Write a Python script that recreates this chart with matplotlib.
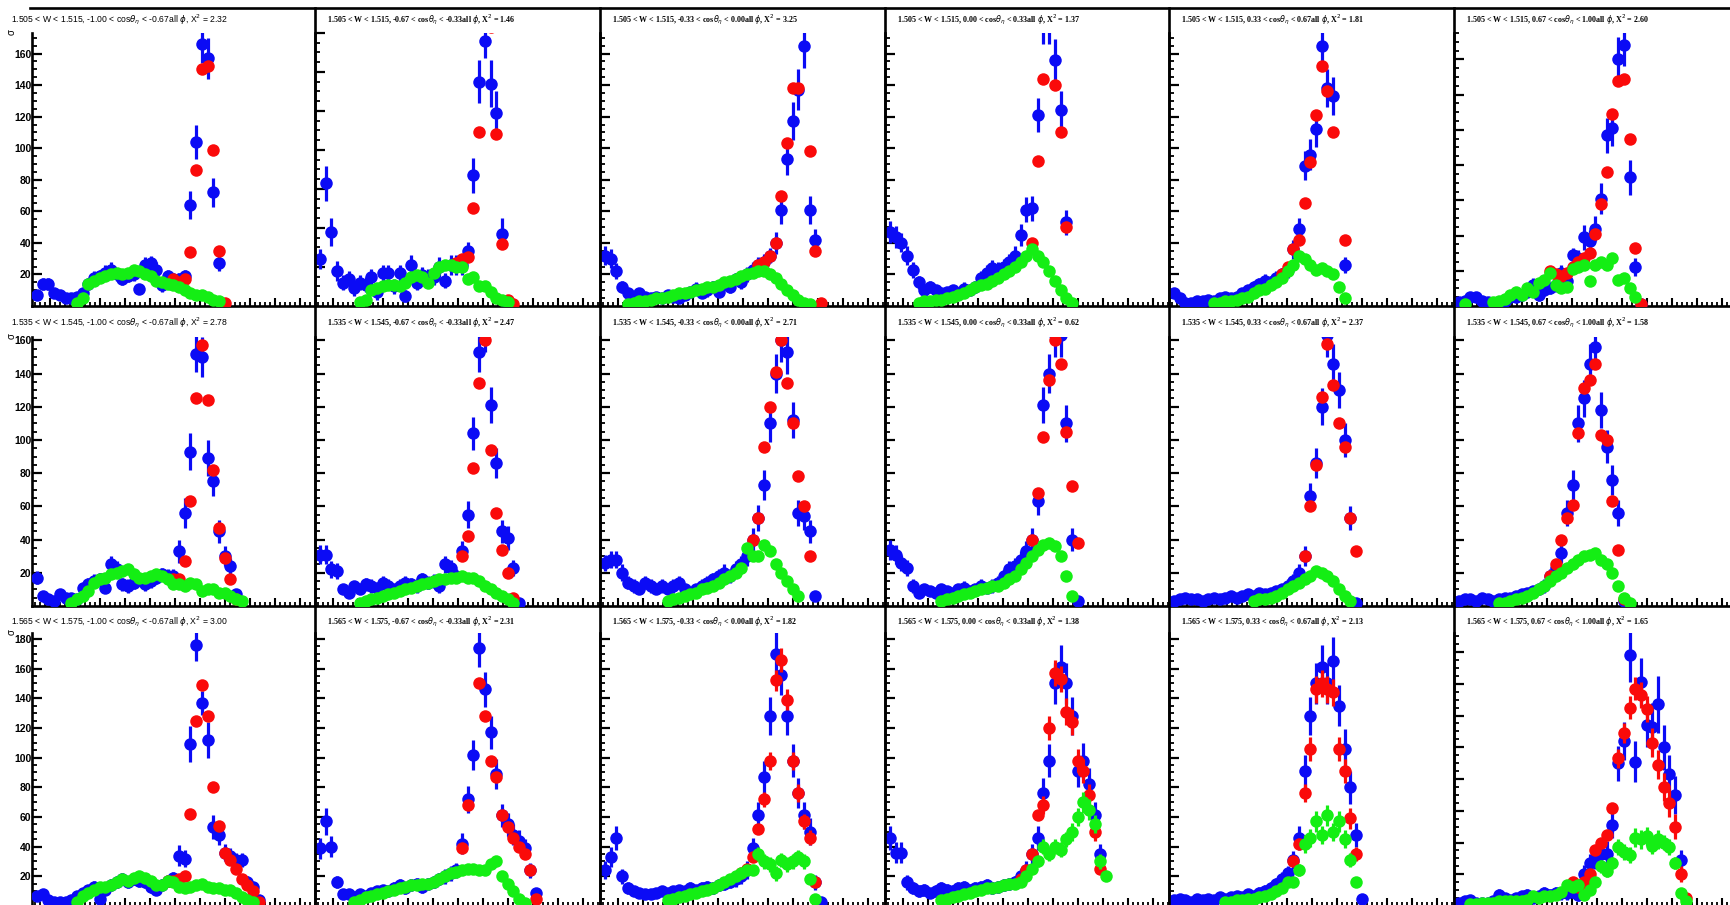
import numpy as np
import matplotlib
matplotlib.use("Agg")
import matplotlib.pyplot as plt
from matplotlib.lines import Line2D
from matplotlib.ticker import FixedLocator, NullFormatter

# ---------------------------------------------------------------- binning
W_BINS = [(1.505, 1.515), (1.535, 1.545), (1.565, 1.575)]
COS_EDGES = [-1.00, -0.67, -0.33, 0.00, 0.33, 0.67, 1.00]
CHI2 = [[2.32, 1.46, 3.25, 1.37, 1.81, 2.60],
        [2.78, 2.47, 2.71, 0.62, 2.37, 1.58],
        [3.00, 2.31, 1.82, 1.38, 2.13, 1.65]]
YMAX = [[173, 140, 173, 173, 173, 155],
        [162, 162, 162, 162, 162, 162],
        [184, 184, 184, 184, 184, 172]]

# ---------------------------------------------------------------- W = 1.505-1.515
blue_1_1 = [7,14,14,8,7,5,5,6,8,14,18,19,21,23,20,17,19,20,11,26,27,23,13,19,17,17,19,64,104,166,157,72,27]
blue_err_1_1 = [3,4,4,3,3,2,2,3,3,4,4,4,5,5,4,4,4,4,3,5,5,5,4,4,4,4,4,9,11,12,13,9,5]
red_1_1 = [None]*24 + [17,15,17,34,86,150,152,99,35,2]
green_1_1 = [None]*7 + [2,5,14,16,18,19,20,21,20,21,23,22,20,19,16,15,14,13,12,10,8,7,7,6,4,3]

blue_1_2 = [24,63,38,18,12,14,9,12,11,15,7,17,17,10,17,5,21,12,16,15,15,20,13,21,21,21,28,67,115,136,114,99,37,1]
blue_err_1_2 = [5,9,7,5,4,4,4,4,4,4,4,4,4,4,4,3,5,4,4,4,4,5,4,5,5,5,5,9,11,9,12,11,8,2]
red_1_2 = [None]*24 + [22,24,25,50,89,150,143,88,32,3,1]
green_1_2 = [None]*7 + [2,3,8,9,10,11,11,10,12,15,16,15,12,17,20,21,21,20,20,14,15,10,10,7,4,3,2]

blue_1_3 = [32,30,22,12,8,6,8,6,5,6,5,7,6,5,7,9,11,8,10,12,9,14,12,17,15,20,23,26,28,32,40,61,93,117,137,165,61,42]
blue_err_1_3 = [6,6,5,4,3,3,3,3,3,3,3,3,3,3,3,3,4,3,4,4,3,4,4,4,4,5,5,5,5,5,7,9,10,12,13,14,9,7]
red_1_3 = [None]*27 + [26,28,32,40,70,103,138,138,None,98,35,2]
green_1_3 = [None]*4 + [1,2,3,3,4,5,5,6,7,8,8,9,10,11,12,12,13,15,16,17,19,20,21,22,22,20,18,14,10,7,4,2,1]

blue_1_4 = [47,44,40,32,23,15,10,12,10,8,9,10,8,11,10,12,18,21,24,23,25,28,32,45,61,62,121,180,180,156,124,53]
blue_err_1_4 = [7,7,6,6,5,4,3,4,3,3,3,3,3,4,3,4,4,5,5,5,5,5,6,7,8,8,11,14,14,13,12,8]
red_1_4 = [None]*25 + [40,92,144,185,140,110,50]
green_1_4 = [None]*5 + [2,3,3,4,4,5,6,7,8,10,12,13,14,16,18,20,22,25,28,32,36,32,28,22,16,10,5,2]

blue_1_5 = [8,5,2,2,3,3,4,3,5,6,5,6,8,10,12,14,16,15,18,20,23,36,49,89,96,112,165,138,133,None,26]
blue_err_1_5 = [3,3,2,2,2,2,2,2,2,3,2,3,3,3,4,4,4,4,4,4,5,6,7,9,10,11,13,12,12,None,5]
red_1_5 = [None]*19 + [20,25,36,42,65,91,121,152,136,110,None,42]
green_1_5 = [None]*7 + [2,2,3,3,4,5,6,8,10,11,13,15,18,22,26,32,30,26,23,24,22,20,12,5]

blue_1_6 = [2,3,5,5,3,2,1,2,3,5,5,6,8,12,6,9,10,12,19,14,29,27,39,37,44,61,97,101,140,148,73,22,1]
blue_err_1_6 = [2,2,3,3,2,2,1,2,2,3,3,3,3,4,3,3,3,4,4,4,4,5,7,6,7,9,10,10,13,12,10,5,1]
red_1_6 = [None]*16 + [20,18,17,19,22,25,27,30,41,58,76,109,128,129,95,33,1]
green_1_6 = [None,1,None,None,None,None,2,3,4,6,8,6,10,8,13,15,19,12,10,11,21,22,23,14,23,25,23,27,15,16,10,5]

# ---------------------------------------------------------------- W = 1.535-1.545
blue_2_1 = [17,6,4,3,7,5,5,4,11,13,15,16,11,25,22,13,12,14,16,13,15,17,19,18,18,33,56,93,152,150,89,75,45,30,24,7]
blue_err_2_1 = [4,3,2,2,3,2,2,2,3,4,4,4,3,5,5,4,4,4,4,4,4,4,4,4,4,7,9,11,11,12,11,9,7,6,5,3]
red_2_1 = [None]*24 + [16,16,27,63,125,157,124,82,47,29,16,4]
green_2_1 = [None]*6 + [2,4,6,9,14,16,17,19,20,21,22,19,17,17,18,19,18,16,13,13,12,14,13,9,10,10,8,8,6,4,3]

blue_2_2 = [31,31,22,21,10,8,12,10,13,12,11,14,12,10,12,14,13,12,16,14,15,12,25,23,18,33,55,104,153,165,121,86,45,41,23,2]
blue_err_2_2 = [6,6,5,5,3,3,3,3,4,4,3,4,4,3,4,4,4,4,4,4,4,4,5,5,4,6,8,10,12,12,11,9,7,7,5,2]
red_2_2 = [None]*25 + [30,42,83,134,160,94,56,34,20,5]
green_2_2 = [None]*7 + [2,3,4,5,6,7,8,9,10,11,12,13,14,15,16,16,17,17,18,17,17,15,12,10,8,6,4,2]

blue_2_3 = [26,28,28,20,14,12,10,14,12,10,12,10,12,14,10,8,10,12,14,16,18,20,18,22,25,30,40,53,73,110,140,160,153,112,56,54,45,6]
blue_err_2_3 = [5,5,5,5,4,4,3,4,4,3,4,3,4,4,3,3,3,4,4,4,4,5,4,5,5,6,7,8,9,11,12,13,13,11,8,8,7,3]
red_2_3 = [None]*26 + [40,53,96,120,141,160,134,110,78,60,30]
green_2_3 = [None]*11 + [3,4,5,6,7,8,10,11,12,14,16,18,20,23,35,30,30,37,33,25,20,15,10,6]

blue_2_4 = [34,31,26,23,12,8,10,9,8,10,9,8,10,11,9,10,12,11,12,14,18,22,24,28,33,40,63,121,140,163,163,110,40,3]
blue_err_2_4 = [6,6,5,5,4,3,3,3,3,3,3,3,3,4,3,3,4,3,4,4,4,5,5,5,6,7,8,11,12,13,13,11,7,2]
red_2_4 = [None]*25 + [40,68,102,136,160,146,105,72,38]
green_2_4 = [None]*9 + [3,4,5,6,7,8,9,10,11,12,12,14,16,18,22,26,30,34,37,38,36,30,18,6]

blue_2_5 = [3,4,5,4,4,3,4,5,4,5,6,5,6,7,6,8,7,8,9,10,12,15,20,30,66,86,120,163,146,130,100,53,2]
blue_err_2_5 = [2,2,2,2,2,2,2,2,2,2,3,2,3,3,3,3,3,3,3,3,4,4,5,6,8,9,11,13,12,11,10,7,1]
red_2_5 = [None]*23 + [30,60,85,126,158,133,110,96,53,33]
green_2_5 = [None]*14 + [3,4,4,5,6,8,10,12,14,16,18,21,20,18,15,10,6,3]

blue_2_6 = [3,4,4,3,5,4,3,4,5,5,6,7,8,9,10,12,18,23,32,56,73,110,125,146,156,118,96,76,56,3]
blue_err_2_6 = [2,2,2,2,2,2,2,2,2,2,3,3,3,3,3,4,4,5,6,8,9,11,11,12,12,11,10,9,8,2]
red_2_6 = [None]*16 + [18,25,40,53,61,104,131,136,146,103,100,63,34,4]
green_2_6 = [None]*7 + [2,2,3,4,5,6,8,10,12,15,18,20,23,25,28,30,31,32,28,25,20,12,5,2]

# ---------------------------------------------------------------- W = 1.565-1.575
blue_3_1 = [7,8,4,3,3,3,4,7,9,11,13,5,11,14,16,18,16,18,17,16,13,11,14,17,19,34,32,109,176,137,112,53,48,36,34,31,31,16,13,4]
blue_err_3_1 = [3,3,2,2,2,2,2,3,3,3,4,2,3,4,4,4,4,4,4,4,4,3,4,4,4,7,6,12,11,8,12,8,7,6,5,5,5,4,3,2]
red_3_1 = [None]*23 + [17,17,18,20,62,125,149,128,80,54,36,31,25,18,14,10,3]
green_3_1 = [None]*7 + [3,7,9,11,13,13,14,16,18,17,19,20,19,17,14,14,17,16,13,12,13,14,15,13,12,12,11,11,9,6,4,3]

blue_3_2 = [39,57,40,16,8,8,6,8,7,9,10,11,10,12,14,12,14,15,13,15,16,18,20,22,24,42,72,102,174,146,117,89,61,55,48,44,39,24,9]
blue_err_3_2 = [7,9,7,4,3,3,3,3,3,3,3,3,3,4,4,4,4,4,4,4,4,4,5,5,5,7,9,10,13,12,11,10,8,8,7,7,6,5,3]
red_3_2 = [None]*25 + [39,68,None,150,128,98,87,61,53,46,40,35,24,5]
green_3_2 = [None]*6 + [3,4,6,7,8,9,10,11,12,13,14,14,15,15,16,18,20,22,23,24,25,25,24,24,28,30,20,15,10,5,2]

blue_3_3 = [24,33,46,20,12,10,9,8,8,9,10,9,10,11,10,12,11,12,13,12,14,15,16,18,20,24,39,61,87,128,170,156,128,98,76,61,50,16,3]
blue_err_3_3 = [6,7,8,5,4,3,3,3,3,3,3,3,3,3,3,4,3,4,4,4,4,4,4,5,5,6,7,9,11,13,15,14,13,11,10,9,9,5,2]
red_3_3 = [None]*24 + [22,25,33,52,72,98,152,166,139,98,76,57,46,16]
green_3_3 = [None]*11 + [4,5,6,7,8,9,10,11,12,14,16,18,20,22,24,24,35,30,28,22,31,28,30,33,30,18,5]

blue_3_4 = [46,36,36,16,12,10,11,9,10,12,11,10,12,13,11,12,13,14,12,13,14,15,16,20,24,35,46,76,98,150,161,150,128,91,98,82,61,35]
blue_err_3_4 = [8,7,7,5,4,4,4,3,4,4,4,4,4,4,4,4,4,4,4,4,4,4,4,5,6,7,8,10,11,14,15,14,13,11,12,11,9,7]
red_3_4 = [None]*23 + [18,24,35,61,68,120,157,153,131,124,98,91,75,50,25]
green_3_4 = [None]*9 + [4,5,6,7,8,9,10,11,12,12,13,14,15,15,16,20,25,30,40,35,40,38,45,50,60,70,65,55,30,20]

blue_3_5 = [4,5,4,3,5,4,5,4,6,5,6,7,6,8,7,9,10,12,15,18,22,31,46,91,128,150,161,150,165,135,106,80,48,5]
blue_err_3_5 = [2,3,2,2,3,2,3,2,3,3,3,3,3,3,3,4,4,4,4,5,5,6,8,11,13,14,15,14,16,14,13,11,8,2]
red_3_5 = [None]*21 + [30,42,76,106,146,150,146,144,106,91,59,35]
green_3_5 = [None]*9 + [3,3,4,4,5,5,6,7,8,10,12,16,16,24,42,46,57,48,61,50,57,45,31,16]

blue_3_6 = [2,3,4,2,2,2,3,7,5,4,5,6,7,5,6,8,7,8,8,8,9,7,20,27,30,33,33,51,90,104,158,91,141,114,113,127,100,83,70,29]
blue_err_3_6 = [2,2,3,2,2,2,2,4,3,3,3,3,4,3,3,4,4,4,4,4,4,4,6,6,7,8,8,8,11,12,17,13,15,14,15,18,14,12,12,6]
red_3_6 = [None]*20 + [15,12,15,20,35,40,45,62,93,109,125,137,133,124,103,89,75,65,50,20,5]
green_3_6 = [None,None,1,1,2,2,2,3,3,3,3,3,4,6,5,6,6,7,9,13,12,13,7,10,15,25,22,27,37,34,32,43,42,44,38,42,40,37,27,8,3]

# visible uncertainties on the red / green points (bin -> half width)
red_err = {
    (3, 3): {29: 5, 30: 6, 31: 7, 32: 8, 33: 7, 34: 6, 35: 6, 36: 5, 37: 5},
    (3, 4): {28: 6, 29: 8, 30: 9, 31: 9, 32: 9, 33: 9, 34: 8, 35: 8, 36: 7, 37: 6},
    (3, 5): {24: 6, 25: 8, 26: 9, 27: 9, 28: 9, 29: 9, 30: 8, 31: 8, 32: 7, 33: 5},
    (3, 6): {29: 6, 30: 6, 31: 7, 32: 7, 33: 8, 34: 8, 35: 9, 36: 9, 37: 9, 38: 9, 39: 8, 40: 5},
}
green_err = {
    (3, 3): {28: 5, 29: 5, 30: 5, 31: 5, 32: 5, 33: 5, 34: 5, 35: 5, 36: 5},
    (3, 4): {27: 4, 28: 5, 29: 5, 30: 5, 31: 5, 32: 5, 33: 6, 34: 6, 35: 7, 36: 7, 37: 6, 38: 5},
    (3, 5): {23: 4, 24: 6, 25: 6, 26: 7, 27: 6, 28: 7, 29: 6, 30: 7, 31: 6, 32: 5},
    (3, 6): {26: 4, 27: 4, 28: 4, 29: 5, 30: 5, 31: 5, 32: 6, 33: 6, 34: 6, 35: 5, 36: 6, 37: 5, 38: 5, 39: 4},
}

# ---------------------------------------------------------------- canvas geometry (pixels)
FIG_W, FIG_H = 1730, 905
PX_PER_BIN = 5.68
COL_X = [32, 315, 600, 885, 1169, 1454]
COL_W = [283, 285, 285, 284, 285, 284]
ROW_Y = [(33, 306), (337, 606), (633, 906)]
TITLE_Y = [20, 323, 622]

BLUE = "#0b0bf5"
RED = "#fa0a0a"
GREEN = "#14ee14"

plt.rcParams["font.family"] = ["Liberation Sans", "DejaVu Sans"]


def as_array(vals):
    return np.array([np.nan if v is None else v for v in vals], dtype=float)


def draw(ax, vals, errs, color, z):
    y = as_array(vals)
    x = np.arange(1, len(y) + 1)
    if errs is None:
        e = np.zeros_like(y)
    elif isinstance(errs, dict):
        e = np.zeros_like(y)
        for k, v in errs.items():
            e[k - 1] = v
    else:
        e = np.nan_to_num(as_array(errs))
    ax.errorbar(x, y, yerr=e, fmt="o", ms=9, mew=0, color=color, ecolor=color,
                elinewidth=2.3, capsize=0, zorder=z)


fig = plt.figure(figsize=(FIG_W / 100, FIG_H / 100), dpi=100)
fig.patch.set_facecolor("white")

g = globals()
for r in range(3):
    yt, yb = ROW_Y[r]
    for c in range(6):
        x0, w = COL_X[c], COL_W[c]
        ax = fig.add_axes([x0 / FIG_W, 1 - yb / FIG_H, w / FIG_W, (yb - yt) / FIG_H])
        ax.set_facecolor("none")
        key = f"{r + 1}_{c + 1}"
        draw(ax, g["blue_" + key], g["blue_err_" + key], BLUE, 3)
        draw(ax, g["red_" + key], red_err.get((r + 1, c + 1)), RED, 4)
        draw(ax, g["green_" + key], green_err.get((r + 1, c + 1)), GREEN, 5)

        lo = 0.1
        ax.set_xlim(lo, lo + w / PX_PER_BIN)
        ax.set_ylim(0, YMAX[r][c])

        for s in ("top", "right"):
            ax.spines[s].set_visible(False)
        for s in ("left", "bottom"):
            ax.spines[s].set_linewidth(1.9)

        major_x = lo + (18 + 25 * np.arange(12)) / PX_PER_BIN
        minor_x = lo + (3 + 5 * np.arange(60)) / PX_PER_BIN
        ax.xaxis.set_major_locator(FixedLocator(major_x))
        ax.xaxis.set_minor_locator(FixedLocator(minor_x))
        ax.yaxis.set_major_locator(FixedLocator(np.arange(20, 200, 20)))
        ax.yaxis.set_minor_locator(FixedLocator(np.arange(5, 200, 5)))
        ax.xaxis.set_major_formatter(NullFormatter())
        ax.tick_params(axis="x", which="major", direction="in", length=6, width=1.5)
        ax.tick_params(axis="x", which="minor", direction="in", length=3, width=1.3)
        ax.tick_params(axis="y", which="major", direction="in", length=7, width=1.6,
                       labelleft=(c == 0), labelsize=7.5, pad=0.5)
        ax.tick_params(axis="y", which="minor", direction="in", length=3.5, width=1.3)
        if c == 0:
            for lab in ax.get_yticklabels():
                lab.set_fontweight("bold")
            # axis title squeezed into the corner above the tick labels
            fig.text(12 / FIG_W, 1 - (yt - 1) / FIG_H, "σ", rotation=90, fontsize=7,
                     ha="center", va="center")

        wlo, whi = W_BINS[r]
        clo, chi = COS_EDGES[c], COS_EDGES[c + 1]
        title = (f"{wlo:.3f} < W < {whi:.3f}, {clo:.2f} < cos$\\theta_\\eta$ < {chi:.2f}"
                 f"all $\\phi$, X$^2$ = {CHI2[r][c]:.2f}")
        if c == 0:
            fig.text(11 / FIG_W, 1 - TITLE_Y[r] / FIG_H, title, fontsize=6.2,
                     ha="left", va="center")
        else:
            fig.text((x0 + 12) / FIG_W, 1 - TITLE_Y[r] / FIG_H, title, fontsize=5.8,
                     fontweight="bold", family=["Liberation Serif", "DejaVu Serif"],
                     ha="left", va="center")

# pad borders shared by neighbouring panels
fig.add_artist(Line2D([30 / FIG_W, 1], [1 - 8 / FIG_H] * 2, color="black", lw=1.9))
for x in COL_X[1:]:
    fig.add_artist(Line2D([x / FIG_W] * 2, [1 - 8 / FIG_H, 0], color="black", lw=1.9))

fig.savefig("out.png", dpi=100)
